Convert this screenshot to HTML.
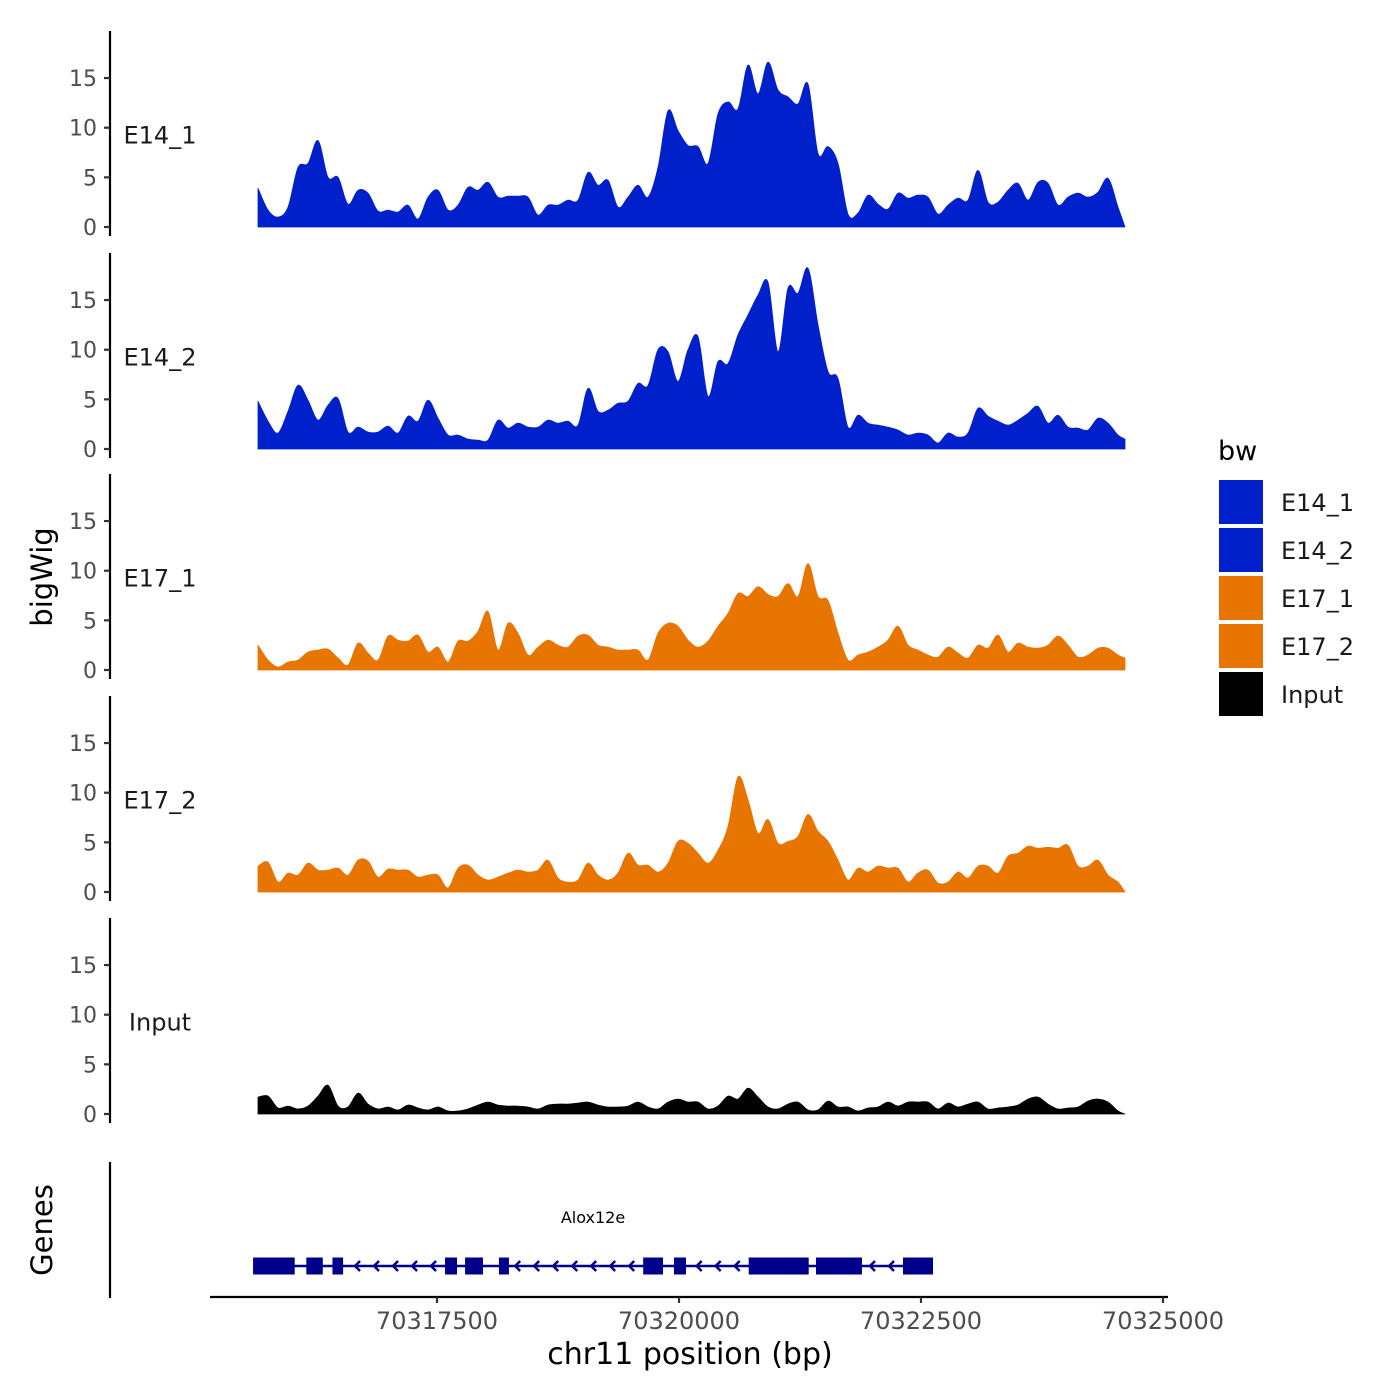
<!DOCTYPE html>
<html><head><meta charset="utf-8">
<style>
html,body{margin:0;padding:0;background:#fff;}
svg{display:block;font-family:"DejaVu Sans","Liberation Sans",sans-serif;}
</style></head>
<body>
<svg id="chart" width="1400" height="1400" viewBox="0 0 1400 1400" xmlns="http://www.w3.org/2000/svg">
<g id="tracks"></g>
<g id="genes"></g>
<g id="xaxis"></g>
<text x="42" y="577" font-size="29" text-anchor="middle" transform="rotate(-90 42 577)" dominant-baseline="central" fill="#000">bigWig</text>
<text x="42" y="1230" font-size="29" text-anchor="middle" transform="rotate(-90 42 1230)" dominant-baseline="central" fill="#000">Genes</text>
<text x="690" y="1364" font-size="30" text-anchor="middle" fill="#000">chr11 position (bp)</text>
<g id="legend"></g>
</svg>
<script>
const trackNames = ["E14_1","E14_2","E17_1","E17_2","Input"];
const trackColors = ["#0020cc","#0020cc","#e87500","#e87500","#000000"];
const yTicks = [0,5,10,15];
const xTicks = [70317500,70320000,70322500,70325000];
const xTickLabels = ["70317500","70320000","70322500","70325000"];
const posStart = 70315651;
const posEnd = 70324607;
const sigE14_1 = [3.9,1.7,1.0,2.0,6.0,6.4,8.7,5.0,5.0,2.3,3.7,3.4,1.6,1.7,1.5,2.2,0.8,3.0,3.7,1.7,2.2,4.0,3.7,4.5,3.0,3.1,3.1,3.0,1.2,2.2,2.2,2.7,2.7,5.5,4.2,4.7,2.0,3.0,4.2,3.0,6.0,11.7,9.7,8.2,
8.1,6.4,11.4,12.6,11.9,16.3,13.4,16.6,13.8,13.1,12.4,14.4,7.4,8.1,6.4,1.3,1.4,3.2,2.3,1.8,3.4,2.9,3.2,3.0,1.3,2.2,2.9,2.7,5.7,2.5,2.5,3.7,4.4,2.7,4.5,4.4,2.2,3.0,3.4,3.0,3.5,4.9,2.0,0];
const sigE14_2 = [4.8,2.8,1.6,3.8,6.4,4.9,2.9,4.4,5.1,1.7,2.2,1.7,1.7,2.3,1.6,3.3,2.8,4.9,3.1,1.4,1.4,1.0,0.9,0.9,2.9,2.1,2.6,2.2,2.2,2.9,2.6,2.8,2.4,6.1,3.8,3.9,4.6,4.8,6.6,6.4,10.0,9.8,6.8,10.0,
11.3,5.3,8.8,8.6,11.5,13.5,15.5,16.8,9.8,16.2,15.7,18.2,12.5,7.8,7.1,2.2,3.4,2.6,2.4,2.2,1.9,1.4,1.6,1.4,0.6,1.6,1.2,1.6,4.1,3.3,2.8,2.4,2.9,3.6,4.3,2.6,3.4,2.2,2.1,1.9,3.1,2.6,1.4,1.0];
const sigE17_1 = [2.5,1.0,0.3,0.8,1.0,1.8,2.0,2.1,1.2,0.5,2.7,1.7,1.0,3.4,3.0,2.9,3.5,1.8,2.3,0.8,2.9,2.9,3.9,5.9,2.0,4.7,3.7,1.5,2.3,3.0,2.5,2.3,3.4,3.5,2.5,2.3,2.0,2.0,2.0,1.0,3.7,4.7,4.4,3.0,
2.3,2.9,4.4,5.7,7.7,7.4,8.4,7.6,7.4,8.7,7.4,10.7,7.4,7.0,3.7,1.0,1.5,1.8,2.3,3.0,4.4,2.5,2.0,1.5,1.3,2.3,1.7,1.2,2.5,2.2,3.5,1.8,2.7,2.3,2.2,2.5,3.4,2.5,1.3,1.5,2.2,2.2,1.5,1.2];
const sigE17_2 = [2.6,3.0,1.0,1.9,1.7,2.9,2.2,2.2,2.4,1.7,3.2,3.1,1.5,2.3,2.2,2.2,1.5,1.7,1.7,0.4,2.4,2.7,1.7,1.2,1.5,1.9,2.2,2.0,2.2,3.2,1.4,1.0,1.2,2.9,1.7,1.2,1.9,3.9,2.7,2.7,2.0,2.9,5.1,4.9,
3.9,2.9,4.2,6.6,11.6,9.3,5.9,7.3,4.9,5.1,5.6,7.8,6.1,5.1,3.2,1.2,2.4,2.0,2.6,2.4,2.4,1.0,1.9,2.2,0.9,1.0,2.0,1.4,2.6,2.6,1.9,3.6,3.9,4.6,4.4,4.5,4.4,4.7,2.6,2.6,3.2,1.7,1.0,0];
const sigInput = [1.7,1.8,0.6,0.8,0.5,0.8,1.8,2.9,0.8,0.7,2.1,1.0,0.5,0.7,0.4,0.9,0.6,0.4,0.7,0.3,0.3,0.5,0.9,1.2,0.9,0.8,0.8,0.7,0.5,0.9,1.0,1.0,1.1,1.2,0.9,0.7,0.7,0.8,1.2,0.7,0.5,1.2,1.5,1.2,
1.2,0.5,0.8,1.8,1.5,2.6,1.7,0.7,0.5,1.0,1.2,0.4,0.4,1.3,0.7,0.7,0.3,0.6,0.7,1.2,0.8,1.2,1.2,1.2,0.5,1.1,0.7,1.0,1.2,0.5,0.6,0.7,0.9,1.5,1.7,1.0,0.5,0.6,0.7,1.3,1.5,1.2,0.3,0];
const signals = [sigE14_1,sigE14_2,sigE17_1,sigE17_2,sigInput];
const exonStarts = [70315600,70316150,70316420,70317583,70317790,70318140,70319630,70319948,70320720,70321415,70322314];
const exonEnds   = [70316030,70316320,70316530,70317707,70317975,70318243,70319835,70320072,70321340,70321890,70322624];
const geneName = "Alox12e";

const NS = "http://www.w3.org/2000/svg";
function mk(tag, attrs, parent){const e=document.createElementNS(NS,tag);for(const k in attrs)e.setAttribute(k,attrs[k]);parent.appendChild(e);return e;}
function xs(bp){return 437 + (bp-70317500)*(242/2500);}
const pxPerUnit = 9.93;
const baselines = [227,449,670,892,1114];
function ys(t,v){return baselines[t]-v*pxPerUnit;}

const tracksG = document.getElementById('tracks');
const nPts = sigE14_1.length;
function posAt(i){ if(i===nPts-1) return posEnd; return posStart + i*(10*2500/242); }

for(let t=0;t<5;t++){
  const g = mk('g',{},tracksG);
  
  
  const b = baselines[t];
  const ax = mk('line',{x1:110,x2:110,y1:b-196,y2:b+9,stroke:'#000','stroke-width':2.2},g);
  
  
  for(const v of yTicks){
    const y = ys(t,v);
    const tk = mk('line',{x1:104,x2:110,y1:y,y2:y,stroke:'#333','stroke-width':2.2},g);
    
    
    const tl = mk('text',{x:97,y:y+8,'font-size':22,'text-anchor':'end',fill:'#4d4d4d'},g);
    tl.textContent = v;
    
    
  }
  const lab = mk('text',{x:160, y: ys(t,9.2)+8,'font-size':24,'text-anchor':'middle',fill:'#1a1a1a'},g);
  lab.textContent = trackNames[t];
  
  
  const s = signals[t];
  const pts = s.map((v,i)=>[xs(posAt(i)), ys(t,v)]);
  let d = 'M'+pts[0][0].toFixed(1)+','+b+' L'+pts[0][0].toFixed(1)+','+pts[0][1].toFixed(1);
  for(let i=0;i<pts.length-1;i++){
    const p0=pts[Math.max(0,i-1)], p1=pts[i], p2=pts[i+1], p3=pts[Math.min(pts.length-1,i+2)];
    let c1y=p1[1]+(p2[1]-p0[1])/6, c2y=p2[1]-(p3[1]-p1[1])/6;
    c1y=Math.min(c1y,b); c2y=Math.min(c2y,b);
    d += ` C${(p1[0]+(p2[0]-p0[0])/6).toFixed(1)},${c1y.toFixed(1)} ${(p2[0]-(p3[0]-p1[0])/6).toFixed(1)},${c2y.toFixed(1)} ${p2[0].toFixed(1)},${p2[1].toFixed(1)}`;
  }
  d += ' L'+pts[pts.length-1][0].toFixed(1)+','+b+' Z';
  const area = mk('path',{d:d,fill:trackColors[t],stroke:trackColors[t],'stroke-width':0.8,'stroke-linejoin':'round'},g);
  
  
}

const gG = document.getElementById('genes');
const gax = mk('line',{x1:110,x2:110,y1:1162,y2:1298,stroke:'#000','stroke-width':2.2},gG);


const gy = 1266;
const gx0 = xs(exonStarts[0]), gx1 = xs(exonEnds[exonEnds.length-1]);
const intron = mk('line',{x1:gx0,x2:gx1,y1:gy,y2:gy,stroke:'#00008b','stroke-width':2.5},gG);


for(let i=0;i<exonStarts.length-1;i++){
  const a = xs(exonEnds[i]), c = xs(exonStarts[i+1]);
  for(let x=c-14;x>a+6;x-=19){
    const ch = mk('path',{d:`M${x+5},${gy-5} L${x},${gy} L${x+5},${gy+5}`,fill:'none',stroke:'#00008b','stroke-width':2.5},gG);
    
    
  }
}
for(let i=0;i<exonStarts.length;i++){
  const a = xs(exonStarts[i]), c = xs(exonEnds[i]);
  const r = mk('rect',{x:a,y:gy-8.5,width:c-a,height:17,fill:'#00008b'},gG);
  
  
}
const gn = mk('text',{x:593,y:1223,'font-size':16,'text-anchor':'middle',fill:'#000'},gG);
gn.textContent = geneName;



const xG = document.getElementById('xaxis');
const xl = mk('line',{x1:210,x2:1168,y1:1297,y2:1297,stroke:'#000','stroke-width':2.2},xG);


for(let i=0;i<xTicks.length;i++){
  const x = xs(xTicks[i]);
  const tk = mk('line',{x1:x,x2:x,y1:1297,y2:1303,stroke:'#333','stroke-width':2.2},xG);
  
  
  const tl = mk('text',{x:x,y:1329,'font-size':24,'text-anchor':'middle',fill:'#4d4d4d'},xG);
  tl.textContent = xTickLabels[i];
  
  
}

const lG = document.getElementById('legend');
const lt = mk('text',{x:1218,y:460,'font-size':27,fill:'#000'},lG);
lt.textContent = 'bw';


for(let t=0;t<5;t++){
  const y0 = 480 + t*48;
  const e = mk('g',{},lG);
  
  
  mk('rect',{x:1219,y:y0,width:44,height:44,fill:trackColors[t]},e);
  const tx = mk('text',{x:1281,y:y0+31,'font-size':24,fill:'#1a1a1a'},e);
  tx.textContent = trackNames[t];
}
</script>
</body></html>
